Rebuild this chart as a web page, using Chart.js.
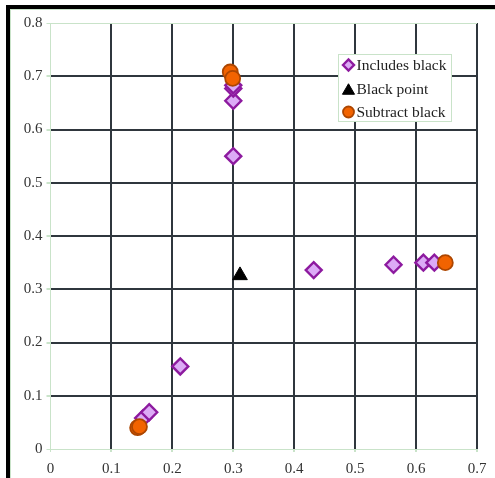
<!DOCTYPE html>
<html>
<head>
<meta charset="utf-8">
<style>
  html, body { margin: 0; padding: 0; background: #ffffff; }
  #wrap { position: relative; width: 495px; height: 478px; }
</style>
<script src="https://cdn.jsdelivr.net/npm/chart.js@4/dist/chart.umd.min.js"></script>
</head>
<body>
<div id="wrap"><canvas id="chart" width="495" height="478"></canvas></div>
<script>
// Series values (x, y pairs)
const includesBlackX = [0.152, 0.162, 0.213, 0.300, 0.300, 0.300, 0.300, 0.432, 0.563, 0.612, 0.630];
const includesBlackY = [0.058, 0.069, 0.155, 0.550, 0.654, 0.677, 0.683, 0.336, 0.346, 0.350, 0.350];

const blackPointX = [0.311];
const blackPointY = [0.326];

const subtractBlackX = [0.143, 0.146, 0.295, 0.299, 0.648];
const subtractBlackY = [0.040, 0.042, 0.708, 0.696, 0.350];

// Series names and axis tick labels
const seriesNames = ['Includes black', 'Black point', 'Subtract black'];
const xTickLabels = ['0', '0.1', '0.2', '0.3', '0.4', '0.5', '0.6', '0.7'];
const yTickLabels = ['0', '0.1', '0.2', '0.3', '0.4', '0.5', '0.6', '0.7', '0.8'];

const toPoints = (xs, ys) => xs.map((x, i) => ({ x: x, y: ys[i] }));

const FONT = '"Liberation Serif", "Times New Roman", serif';
const GRID_DARK = '#2f363d';
const EDGE_GREEN = '#c9e3c9';

// Outer frame: heavy black rule on left and top, with a pale inner line
const framePlugin = {
  id: 'frame',
  beforeDraw(chart) {
    const ctx = chart.ctx;
    ctx.save();
    ctx.fillStyle = '#ffffff';
    ctx.fillRect(0, 0, chart.width, chart.height);
    ctx.fillStyle = '#000000';
    ctx.fillRect(6, 5, 4, chart.height - 5);
    ctx.fillRect(6, 5, chart.width - 6, 4);
    ctx.strokeStyle = EDGE_GREEN;
    ctx.lineWidth = 1;
    ctx.beginPath();
    ctx.moveTo(10.5, 9);
    ctx.lineTo(10.5, chart.height);
    ctx.moveTo(10, 9.5);
    ctx.lineTo(chart.width, 9.5);
    ctx.stroke();
    ctx.restore();
  }
};

// Boxed legend placed inside the plot area
const boxLegendPlugin = {
  id: 'boxLegend',
  afterDraw(chart) {
    const ctx = chart.ctx;
    const left = 338.5, top = 54.5, width = 113, height = 67;
    ctx.save();
    ctx.fillStyle = '#ffffff';
    ctx.fillRect(left, top, width, height);
    ctx.strokeStyle = EDGE_GREEN;
    ctx.lineWidth = 1;
    ctx.strokeRect(left, top, width, height);

    const rows = [65, 89, 112];
    const sizes = [5.5, 7, 5.5];
    const offsets = [0, 1.75, 0];
    chart.data.datasets.forEach((ds, i) => {
      const cy = rows[i];
      const opts = {
        pointStyle: ds.pointStyle,
        radius: sizes[i],
        rotation: 0,
        borderWidth: ds.pointBorderWidth
      };
      ctx.fillStyle = ds.pointBackgroundColor;
      ctx.strokeStyle = ds.pointBorderColor;
      ctx.lineWidth = ds.pointBorderWidth;
      Chart.helpers.drawPoint(ctx, opts, 348.5, cy + offsets[i]);
      ctx.fillStyle = '#1e1e1e';
      ctx.font = '15.5px ' + FONT;
      ctx.textAlign = 'left';
      ctx.textBaseline = 'middle';
      ctx.fillText(ds.label, 356.5, cy + 1);
    });
    ctx.restore();
  }
};

const isEdgeY = v => Math.abs(v) < 1e-9 || Math.abs(v - 0.8) < 1e-9;
const isEdgeX = v => Math.abs(v) < 1e-9;

new Chart(document.getElementById('chart'), {
  type: 'scatter',
  data: {
    datasets: [
      {
        label: seriesNames[0],
        data: toPoints(includesBlackX, includesBlackY),
        pointStyle: 'rectRot',
        pointRadius: 8,
        pointBackgroundColor: '#dcabf6',
        pointBorderColor: '#8d1a9f',
        pointBorderWidth: 2.4,
        order: 2
      },
      {
        label: seriesNames[1],
        data: toPoints(blackPointX, blackPointY),
        pointStyle: 'triangle',
        pointRadius: 8.5,
        pointBackgroundColor: '#000000',
        pointBorderColor: '#000000',
        pointBorderWidth: 1,
        order: 1
      },
      {
        label: seriesNames[2],
        data: toPoints(subtractBlackX, subtractBlackY),
        pointStyle: 'circle',
        pointRadius: 7.5,
        pointBackgroundColor: '#f26300',
        pointBorderColor: '#ad4600',
        pointBorderWidth: 1.8,
        order: 0
      }
    ]
  },
  options: {
    responsive: false,
    animation: false,
    events: [],
    layout: { padding: { left: 0, right: 18, top: 23, bottom: 0 } },
    plugins: {
      legend: { display: false },
      tooltip: { enabled: false },
      title: { display: false }
    },
    scales: {
      x: {
        type: 'linear',
        min: 0,
        max: 0.7,
        afterFit(scale) { scale.height = 29; },
        border: { color: EDGE_GREEN, width: 1 },
        grid: {
          color: c => (c.tick && isEdgeX(c.tick.value)) ? EDGE_GREEN : GRID_DARK,
          lineWidth: c => (c.tick && isEdgeX(c.tick.value)) ? 1 : 2,
          tickColor: EDGE_GREEN,
          tickLength: 3
        },
        ticks: {
          stepSize: 0.1,
          padding: 8,
          color: '#333333',
          font: { family: FONT, size: 15 },
          maxRotation: 0,
          callback: (v, i) => xTickLabels[i]
        }
      },
      y: {
        type: 'linear',
        min: 0,
        max: 0.8,
        afterFit(scale) { scale.width = 50.5; },
        border: { color: EDGE_GREEN, width: 1 },
        grid: {
          color: c => (c.tick && isEdgeY(c.tick.value)) ? EDGE_GREEN : GRID_DARK,
          lineWidth: c => (c.tick && isEdgeY(c.tick.value)) ? 1 : 2,
          tickColor: EDGE_GREEN,
          tickLength: 4
        },
        ticks: {
          stepSize: 0.1,
          padding: 4,
          color: '#333333',
          font: { family: FONT, size: 15 },
          callback: (v, i) => yTickLabels[i]
        }
      }
    }
  },
  plugins: [framePlugin, boxLegendPlugin]
});
</script>
</body>
</html>
